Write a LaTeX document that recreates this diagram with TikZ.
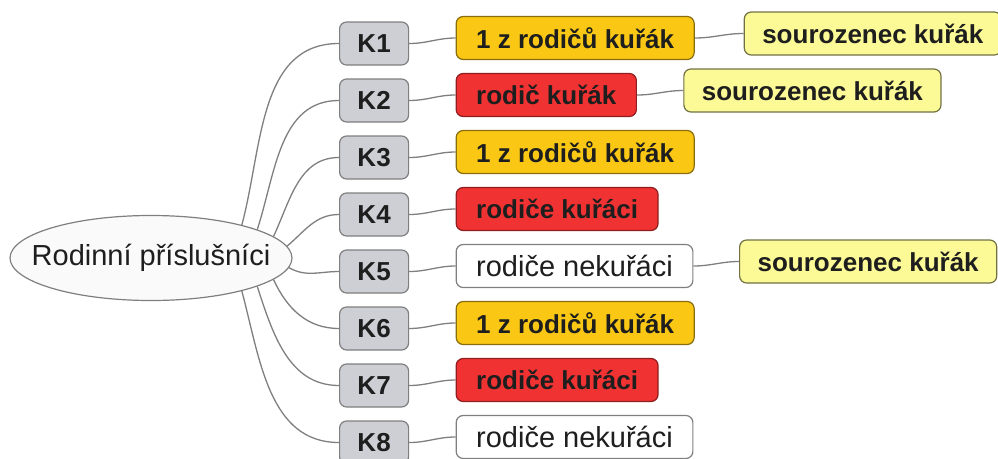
\documentclass[tikz,border=0pt]{standalone}
\usepackage{fontspec}
\setmainfont{Liberation Sans}
\usetikzlibrary{shapes.geometric}

\definecolor{casegray}{HTML}{CDCFD4}
\definecolor{gold}{HTML}{FAC814}
\definecolor{smokered}{HTML}{F03232}
\definecolor{paleyellow}{HTML}{FCFA96}
\definecolor{wire}{HTML}{7F7F7F}
\definecolor{ink}{HTML}{1E1E1E}

\begin{document}
\begin{tikzpicture}[
x=1pt, y=1pt,
grow'=right,
parent anchor=east, child anchor=west,
edge from parent/.style={draw=wire, line width=1.3pt},
twig/.style={edge from parent path={(\tikzparentnode\tikzparentanchor) to[out=0,in=180] (\tikzchildnode\tikzchildanchor)}},
% start angle on the ellipse, then leaving direction
spoke/.style 2 args={edge from parent path={(\tikzparentnode.#1) to[out=#2,in=180] (\tikzchildnode\tikzchildanchor)}},
level 1/.style={level distance=188pt, sibling distance=57pt, every node/.style={yshift=15pt}},
level 2/.style={level distance=81.5pt, twig, every node/.style={yshift=5.5pt}},
level 3/.style={twig, every node/.style={yshift=4.5pt}},
box/.style={draw=wire, line width=1.2pt, rounded corners=7pt, anchor=west,
  minimum height=43pt, inner xsep=20pt, text=ink},
heavy/.style={font=\fontsize{26}{30}\selectfont\bfseries},
light/.style={font=\fontsize{29}{33}\selectfont},
case/.style={box, heavy, fill=casegray, minimum width=69pt, inner xsep=0pt},
onesmokes/.style={box, heavy, fill=gold, draw=gold!55!black},
bothsmoke/.style={box, heavy, fill=smokered, draw=smokered!60!black},
nosmoke/.style={box, light, fill=white},
sibling/.style={box, heavy, fill=paleyellow, draw=paleyellow!45!black, inner xsep=18pt},
family/.style={ellipse, draw=wire, line width=1.2pt, fill=black!2, text=ink, light,
  minimum width=282pt, minimum height=85pt, inner xsep=-20pt, inner ysep=0pt}
]
\useasboundingbox (0,0) rectangle (998,-458);

\node[family] (root) at (151,-258) {Rodinní příslušníci}
	child[spoke={20}{75}] {node[case] {K1}
		child {node[onesmokes] {1 z rodičů kuřák}
			child[level distance=168.5pt] {node[sibling] {sourozenec kuřák}}
		}
	}
	child[spoke={15}{72}] {node[case] {K2}
		child {node[bothsmoke] {rodič kuřák}
			child[level distance=137pt] {node[sibling] {sourozenec kuřák}}
		}
	}
	child[spoke={10}{65}] {node[case] {K3}
		child {node[onesmokes] {1 z rodičů kuřák}}
	}
	child[spoke={5}{40}] {node[case] {K4}
		child {node[bothsmoke] {rodiče kuřáci}}
	}
	child[spoke={-4}{-30}] {node[case] {K5}
		child {node[nosmoke] {rodiče nekuřáci}
			child[level distance=164.5pt] {node[sibling] {sourozenec kuřák}}
		}
	}
	child[spoke={-10}{-65}] {node[case] {K6}
		child {node[onesmokes] {1 z rodičů kuřák}}
	}
	child[spoke={-15}{-72}] {node[case] {K7}
		child {node[bothsmoke] {rodiče kuřáci}}
	}
	child[spoke={-20}{-75}] {node[case] {K8}
		child {node[nosmoke] {rodiče nekuřáci}}
	};
\end{tikzpicture}
\end{document}
